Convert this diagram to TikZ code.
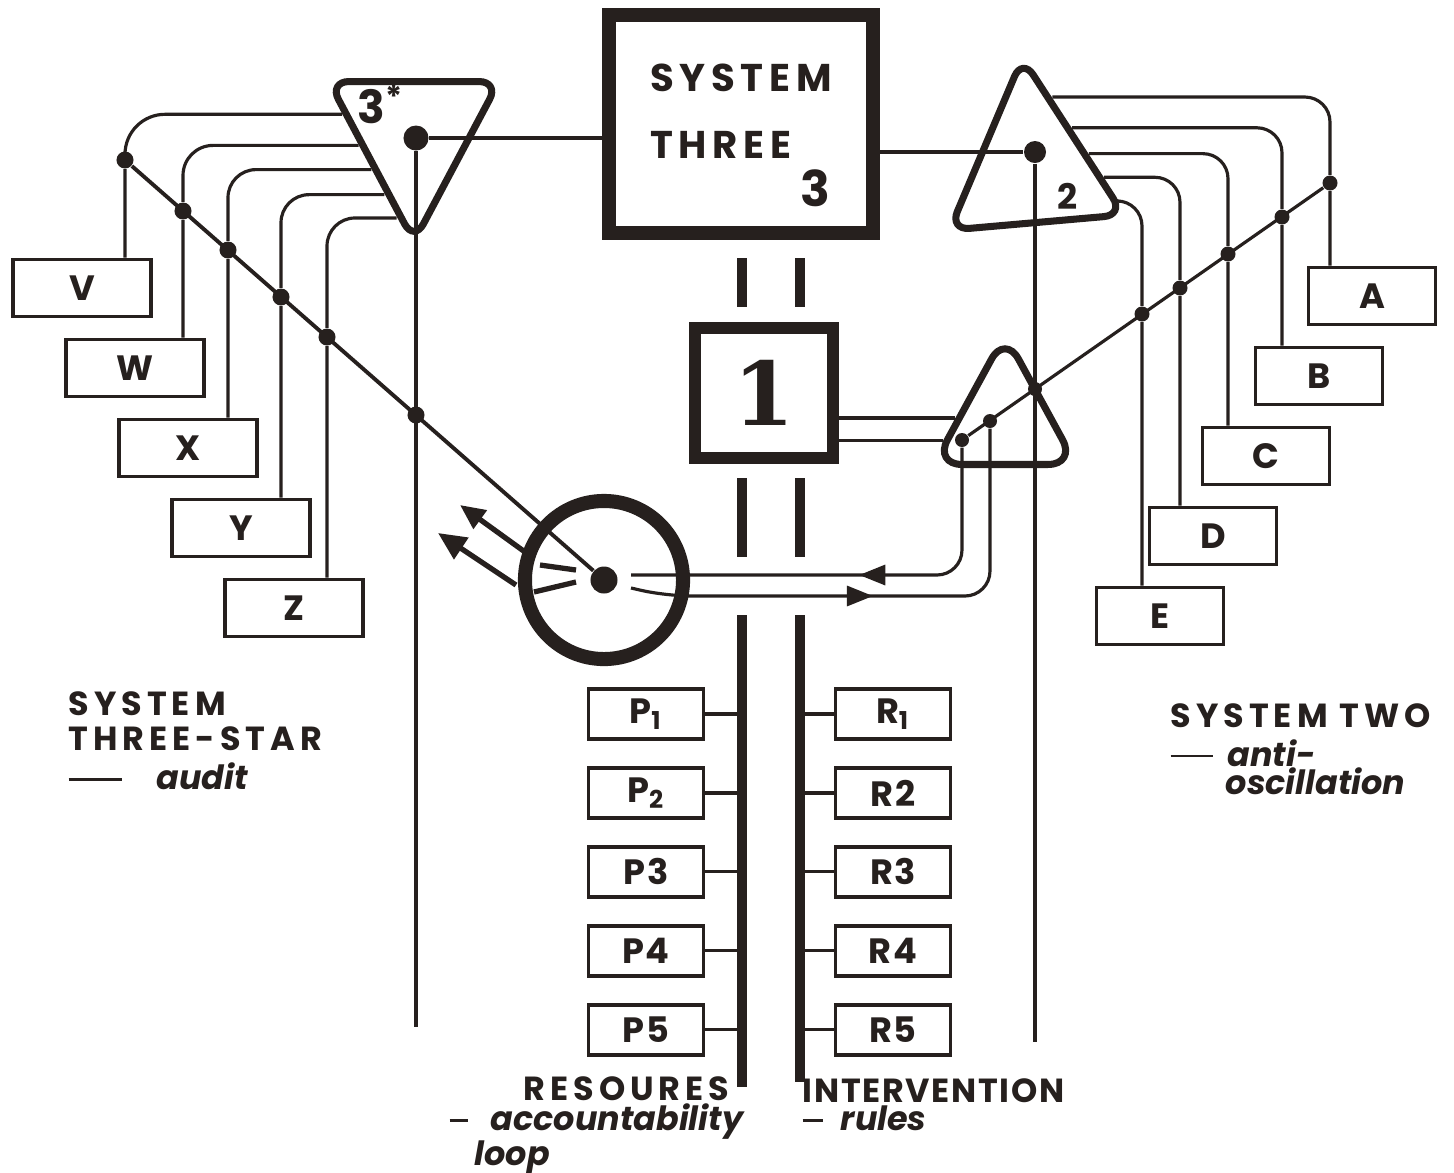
\documentclass[tikz,border=0pt]{standalone}
\usepackage{fontspec}
\setmainfont{Poppins}
\newfontfamily\slabfont{DejaVu Serif}
\usepackage{tikz}
\usetikzlibrary{shapes.geometric, arrows.meta, positioning, calc,
                decorations.markings}
\usepackage{xcolor}
\definecolor{cInk}{RGB}{38,32,30}
\newcommand{\capsfont}{\fontsize{9.5}{10}\selectfont\bfseries\addfontfeature{LetterSpace=15}}
\newcommand{\notefont}{\fontsize{9.5}{10}\selectfont\bfseries\itshape\addfontfeature{LetterSpace=0}}
\newcommand{\boxfont}{\fontsize{10}{10}\selectfont\bfseries\addfontfeature{LetterSpace=4}}
\tikzset{
  basebox/.style={rectangle, draw=cInk, line width=1.1pt, inner sep=0pt,
                  text=cInk, font=\boxfont},
  letterbox/.style={basebox, minimum width=1.38cm, minimum height=0.57cm},
  opbox/.style={basebox, minimum width=1.15cm, minimum height=0.5cm},
  sysbox/.style={basebox, line width=4pt},
  tribox/.style={isosceles triangle, isosceles triangle stretches,
                 draw=cInk, line width=2pt, rounded corners=0.2cm, inner sep=0pt},
  dot/.style={circle, fill=cInk, inner sep=0pt, minimum size=0.17cm},
  bigdot/.style={dot, minimum size=0.25cm},
  wire/.style={draw=cInk, line width=0.9pt, rounded corners=0.25cm},
  channel/.style={draw=cInk, line width=2.6pt},
  flowmark/.style={postaction={decorate}, decoration={markings,
                   mark=at position #1 with {\arrow{Triangle[length=0.26cm, width=0.2cm]}}}},
  outarrow/.style={wire, line width=1.5pt, -{Triangle[length=0.25cm, width=0.22cm]}},
  caption/.style={align=left, inner sep=0pt, text=cInk, font=\capsfont}
}

\begin{document}
\begin{tikzpicture}[x=0.01cm, y=-0.01cm, node distance=0.25cm]
  \path[use as bounding box, fill=white] (0,0) rectangle (1454,1172);

  % systems three, one and the hub
  \node[sysbox, minimum width=2.63cm, minimum height=2.18cm, align=left, text depth=0.25cm,
        font=\capsfont\fontsize{11}{19}\selectfont] (s3) at (741,124) {SYSTEM\\THREE};
  \node[text=cInk, font=\capsfont\fontsize{14}{14}\selectfont] (s3num) at (815,188) {3};
  \node[sysbox, line width=3.6pt, minimum width=1.38cm, minimum height=1.3cm,
        font=\slabfont\bfseries\fontsize{25}{25}\selectfont] (s1) at (764,393) {1};
  \node[circle, draw=cInk, line width=4pt, minimum size=1.58cm, inner sep=0pt] (hub) at (604,580) {};
  \node[bigdot, minimum size=0.27cm] (hubc) at (hub.center) {};

  % triangles
  \node[tribox, shape border rotate=270, minimum width=1.7cm, minimum height=1.6cm,
        anchor=north] (t3s) at (414,78) {};
  \node[text=cInk, font=\capsfont\fontsize{13}{13}\selectfont] (t3slbl) at (381,104) {3\textsuperscript{*}};
  \node[tribox, shape border rotate=90, minimum width=1.75cm, minimum height=1.65cm,
        anchor=south, rotate=5] (t2) at (1037,226) {};
  \node[text=cInk, font=\capsfont\fontsize{10}{10}\selectfont] (t2lbl) at (1068,196) {2};
  \node[tribox, shape border rotate=90, minimum width=1.42cm, minimum height=1.3cm,
        rounded corners=0.28cm, anchor=south] (tl) at (1005,468) {};

  % junction dots
  \node[bigdot] (d3s) at (416,138) {};
  \node[bigdot, minimum size=0.22cm] (d2) at (1035,152) {};
  \foreach \name/\x/\y in {V/125/160, W/183/211, X/228/250, Y/281/297, Z/327/337}
    \node[dot] (d\name) at (\x,\y) {};
  \node[dot] (d3sx) at (416,415) {};
  \foreach \name/\x/\y in {A/1330/183, B/1282/217, C/1228/254, D/1180/288, E/1142/314}
    \node[dot, minimum size=0.15cm] (d\name) at (\x,\y) {};
  \foreach \name/\x/\y in {1/1035/389, 2/990/421, 3/962/440}
    \node[dot, minimum size=0.14cm] (dl\name) at (\x,\y) {};

  % letter boxes
  \foreach \name [count=\i from 0] in {V,W,X,Y,Z}
    \node[letterbox] (b\name) at ({82+53*\i},{288+80*\i}) {\name};
  \foreach \name [count=\i from 0] in {A,B,C,D,E}
    \node[letterbox, minimum width=1.27cm] (b\name) at ({1372-53*\i},{296+80*\i}) {\name};

  % operations
  \node[opbox] (p1) at (646,714) {P\textsubscript{1}};
  \node[opbox, below=of p1] (p2) {P\textsubscript{2}};
  \node[opbox, below=of p2] (p3) {P3};
  \node[opbox, below=of p3] (p4) {P4};
  \node[opbox, below=of p4] (p5) {P5};
  \node[opbox] (r1) at (893,714) {R\textsubscript{1}};
  \node[opbox, below=of r1] (r2) {R2};
  \node[opbox, below=of r2] (r3) {R3};
  \node[opbox, below=of r3] (r4) {R4};
  \node[opbox, below=of r4] (r5) {R5};

  % captions
  \node[caption, anchor=north west] (cap3s) at (68,691)
      {SYSTEM\\THREE-STAR\\[1pt]\rule[2.5pt]{0.53cm}{0.8pt}\hspace{0.35cm}{\notefont audit}};
  \node[caption, anchor=north west] (cap2) at (1170,703)
      {SYSTEM TWO\\[1pt]\rule[2.5pt]{0.42cm}{0.8pt}\hspace{0.15cm}{\notefont anti-}\\[-2pt]\hspace*{0.55cm}{\notefont oscillation}};
  \node[caption, anchor=north west] (capres) at (449,1076)
      {\hspace*{0.74cm}RESOURES\\[-1.5pt]\rule[2.5pt]{0.18cm}{0.8pt}\hspace{0.23cm}{\notefont accountability}\\\hspace*{0.25cm}{\notefont loop}};
  \node[caption, anchor=north west, font=\capsfont\addfontfeature{LetterSpace=5}] (capint) at (802,1078)
      {INTERVENTION\\[-2pt]\rule[2.5pt]{0.2cm}{0.8pt}\hspace{0.18cm}{\notefont rules}};

  % channels
  \coordinate (resEnd) at (742,1087);
  \coordinate (intEnd) at (800,1082);
  \foreach \c in {resEnd, intEnd} {
    \draw[channel, shorten <=0.18cm, shorten >=0.15cm] (s3.south -| \c) -- (s1.north -| \c);
    \draw[channel, shorten <=0.14cm, dash pattern=on 0.79cm off 0.58cm on 8cm] (s1.south -| \c) -- (\c);
  }
  \foreach \p in {p1,p2,p3,p4,p5}
    \draw[wire] (\p.east) -- (\p.east -| resEnd);
  \foreach \r in {r1,r2,r3,r4,r5}
    \draw[wire] (\r.west) -- (\r.west -| intEnd);

  % main lines
  \coordinate (t3sEnd) at (416,1027);
  \coordinate (t2End) at (1035,1042);
  \draw[wire, line width=1.4pt] (d3s) -- (t3sEnd);
  \draw[wire, line width=1.1pt] (d2) -- (t2End);
  \draw[wire, line width=1.2pt] (d3s) -- (d3s -| s3.west);
  \draw[wire, line width=1.2pt] (s3.east |- d2) -- (d2);

  % audit and anti-oscillation wiring
  \foreach \name/\f/\r in {V/0.79/0.4cm, W/0.61/0.3cm, X/0.47/0.28cm, Y/0.325/0.28cm, Z/0.19/0.28cm}
    \draw[wire, rounded corners=\r] ($(t3s.apex)!\f!(t3s.right corner)$) -| (d\name) -- (d\name |- b\name.north);
  \foreach \name/\f in {A/0.285, B/0.467, C/0.62, D/0.76, E/0.9}
    \draw[wire] ($(t2.apex)!\f!(t2.right corner)$) -| (d\name) -- (d\name |- b\name.north);
  \draw[wire, line width=1.1pt] (dV) -- (hubc);
  \draw[wire] (dA) -- (dl3);

  % system one to lower triangle, loops to the hub
  \foreach \f in {0.65, 0.81}
    \draw[wire] ($(tl.apex)!\f!(tl.left corner)$) coordinate (ts) -- (ts -| s1.east);
  \draw[wire, flowmark=0.49] (dl3) |- ($(hubc)+(27,-5)$);
  \draw[wire, flowmark=0.47] ($(hubc)+(27,8)$) -- ($(hubc)+(62,16)$) -| (dl2);
  \draw[outarrow] ($(hubc)+(-79,-28)$) -- ($(hubc)+(-144,-75)$);
  \draw[outarrow, -{Triangle[length=0.28cm, width=0.25cm]}] ($(hubc)+(-88,5)$) -- ($(hubc)+(-166,-47)$);
  \draw[wire, line width=1.5pt] ($(hubc)+(-64,-15)$) -- ($(hubc)+(-28,-10)$);
  \draw[wire, line width=1.5pt] ($(hubc)+(-70,12)$) -- ($(hubc)+(-28,2)$);
\end{tikzpicture}
\end{document}
